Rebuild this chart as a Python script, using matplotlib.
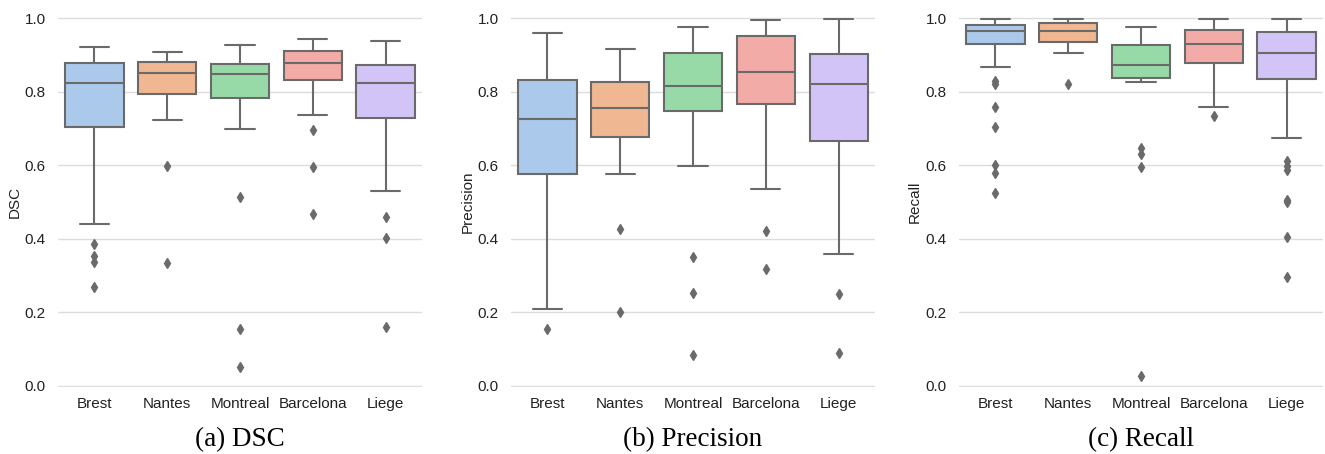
import matplotlib
matplotlib.use("Agg")
import matplotlib.pyplot as plt
import seaborn as sns

# sites on the x axis
sites = ["Brest", "Nantes", "Montreal", "Barcelona", "Liege"]

# box statistics: whisker low, q1, median, q3, whisker high
dsc_whislo = [0.441, 0.723, 0.699, 0.737, 0.529]
dsc_q1 = [0.703, 0.795, 0.784, 0.832, 0.729]
dsc_med = [0.825, 0.850, 0.847, 0.877, 0.825]
dsc_q3 = [0.879, 0.881, 0.876, 0.912, 0.874]
dsc_whishi = [0.921, 0.908, 0.927, 0.943, 0.939]
dsc_fliers = [[0.386, 0.352, 0.338, 0.270],
              [0.599, 0.335],
              [0.515, 0.155, 0.050],
              [0.695, 0.594, 0.468],
              [0.458, 0.403, 0.161]]

prec_whislo = [0.210, 0.576, 0.598, 0.535, 0.359]
prec_q1 = [0.576, 0.678, 0.748, 0.768, 0.666]
prec_med = [0.725, 0.755, 0.816, 0.854, 0.821]
prec_q3 = [0.832, 0.827, 0.905, 0.953, 0.904]
prec_whishi = [0.959, 0.916, 0.976, 0.995, 0.999]
prec_fliers = [[0.155],
               [0.427, 0.202],
               [0.351, 0.253, 0.085],
               [0.422, 0.319],
               [0.251, 0.089]]

rec_whislo = [0.868, 0.905, 0.827, 0.758, 0.673]
rec_q1 = [0.929, 0.935, 0.837, 0.878, 0.835]
rec_med = [0.966, 0.966, 0.874, 0.930, 0.905]
rec_q3 = [0.981, 0.986, 0.927, 0.969, 0.963]
rec_whishi = [0.999, 0.999, 0.975, 0.999, 0.999]
rec_fliers = [[0.829, 0.822, 0.758, 0.704, 0.602, 0.579, 0.524],
              [0.822],
              [0.646, 0.632, 0.594, 0.027],
              [0.733],
              [0.611, 0.597, 0.586, 0.506, 0.500, 0.405, 0.296]]

panels = [
    ("DSC", "(a) DSC", dsc_whislo, dsc_q1, dsc_med, dsc_q3, dsc_whishi, dsc_fliers),
    ("Precision", "(b) Precision", prec_whislo, prec_q1, prec_med, prec_q3, prec_whishi, prec_fliers),
    ("Recall", "(c) Recall", rec_whislo, rec_q1, rec_med, rec_q3, rec_whishi, rec_fliers),
]

sns.set_style("whitegrid")
plt.rcParams["font.family"] = ["Liberation Sans", "DejaVu Sans"]

pastel = sns.color_palette("pastel", 5)
colors = [sns.desaturate(c, 0.75) for c in pastel]
line_gray = "#6a6a6a"

fig = plt.figure(figsize=(13.25, 4.54), dpi=100)

# axes rectangles in figure fraction
lefts = [0.0438, 0.3857, 0.7238]
width = 0.2747
bottom = 0.147
height = 0.816
# right edge of each y label, in pixels
ylabel_x = [22, 475, 922]

for i, (ylab, caption, wlo, q1, med, q3, whi, fl) in enumerate(panels):
    ax = fig.add_axes([lefts[i], bottom, width, height])
    stats = []
    for j in range(len(sites)):
        stats.append({"whislo": wlo[j], "q1": q1[j], "med": med[j],
                      "q3": q3[j], "whishi": whi[j], "fliers": fl[j],
                      "label": sites[j]})
    bp = ax.bxp(stats, positions=range(len(sites)), widths=0.8,
                patch_artist=True, showfliers=True,
                boxprops=dict(edgecolor=line_gray, linewidth=1.5),
                medianprops=dict(color=line_gray, linewidth=1.5),
                whiskerprops=dict(color=line_gray, linewidth=1.5),
                capprops=dict(color=line_gray, linewidth=1.5),
                flierprops=dict(marker="d", markersize=5, markerfacecolor=line_gray,
                                markeredgecolor=line_gray, linestyle="none"),
                manage_ticks=False)
    for patch, c in zip(bp["boxes"], colors):
        patch.set_facecolor(c)
    # caps the same width as seaborn's (half box width)
    for k, cap in enumerate(bp["caps"]):
        pos = k // 2
        cap.set_xdata([pos - 0.2, pos + 0.2])

    ax.set_xlim(-0.5, len(sites) - 0.5)
    ax.set_ylim(-0.004, 1.004)
    ax.set_xticks(range(len(sites)))
    ax.set_xticklabels(sites)
    ax.set_yticks([0.0, 0.2, 0.4, 0.6, 0.8, 1.0])
    ax.set_yticklabels(["0.0", "0.2", "0.4", "0.6", "0.8", "1.0"])
    ax.tick_params(axis="both", length=0, labelsize=11, colors="#222222")
    ax.tick_params(axis="y", pad=9)
    ax.tick_params(axis="x", pad=7)
    ax.grid(axis="x", visible=False)
    ax.grid(axis="y", color="#dcdcdc", linewidth=1.0)
    ax.set_axisbelow(True)
    for s in ax.spines.values():
        s.set_visible(False)
    ax.set_ylabel(ylab, fontsize=11, color="#222222")
    ax.yaxis.set_label_coords((ylabel_x[i] - lefts[i] * 1325) / (width * 1325), 0.5)

    cx = lefts[i] + width / 2
    fig.text(cx, 1 - 446 / 454, caption, ha="center", va="baseline",
             fontsize=19.5, family=["Liberation Serif", "DejaVu Serif"], color="black")

fig.savefig("out.png", dpi=100, facecolor="white")
